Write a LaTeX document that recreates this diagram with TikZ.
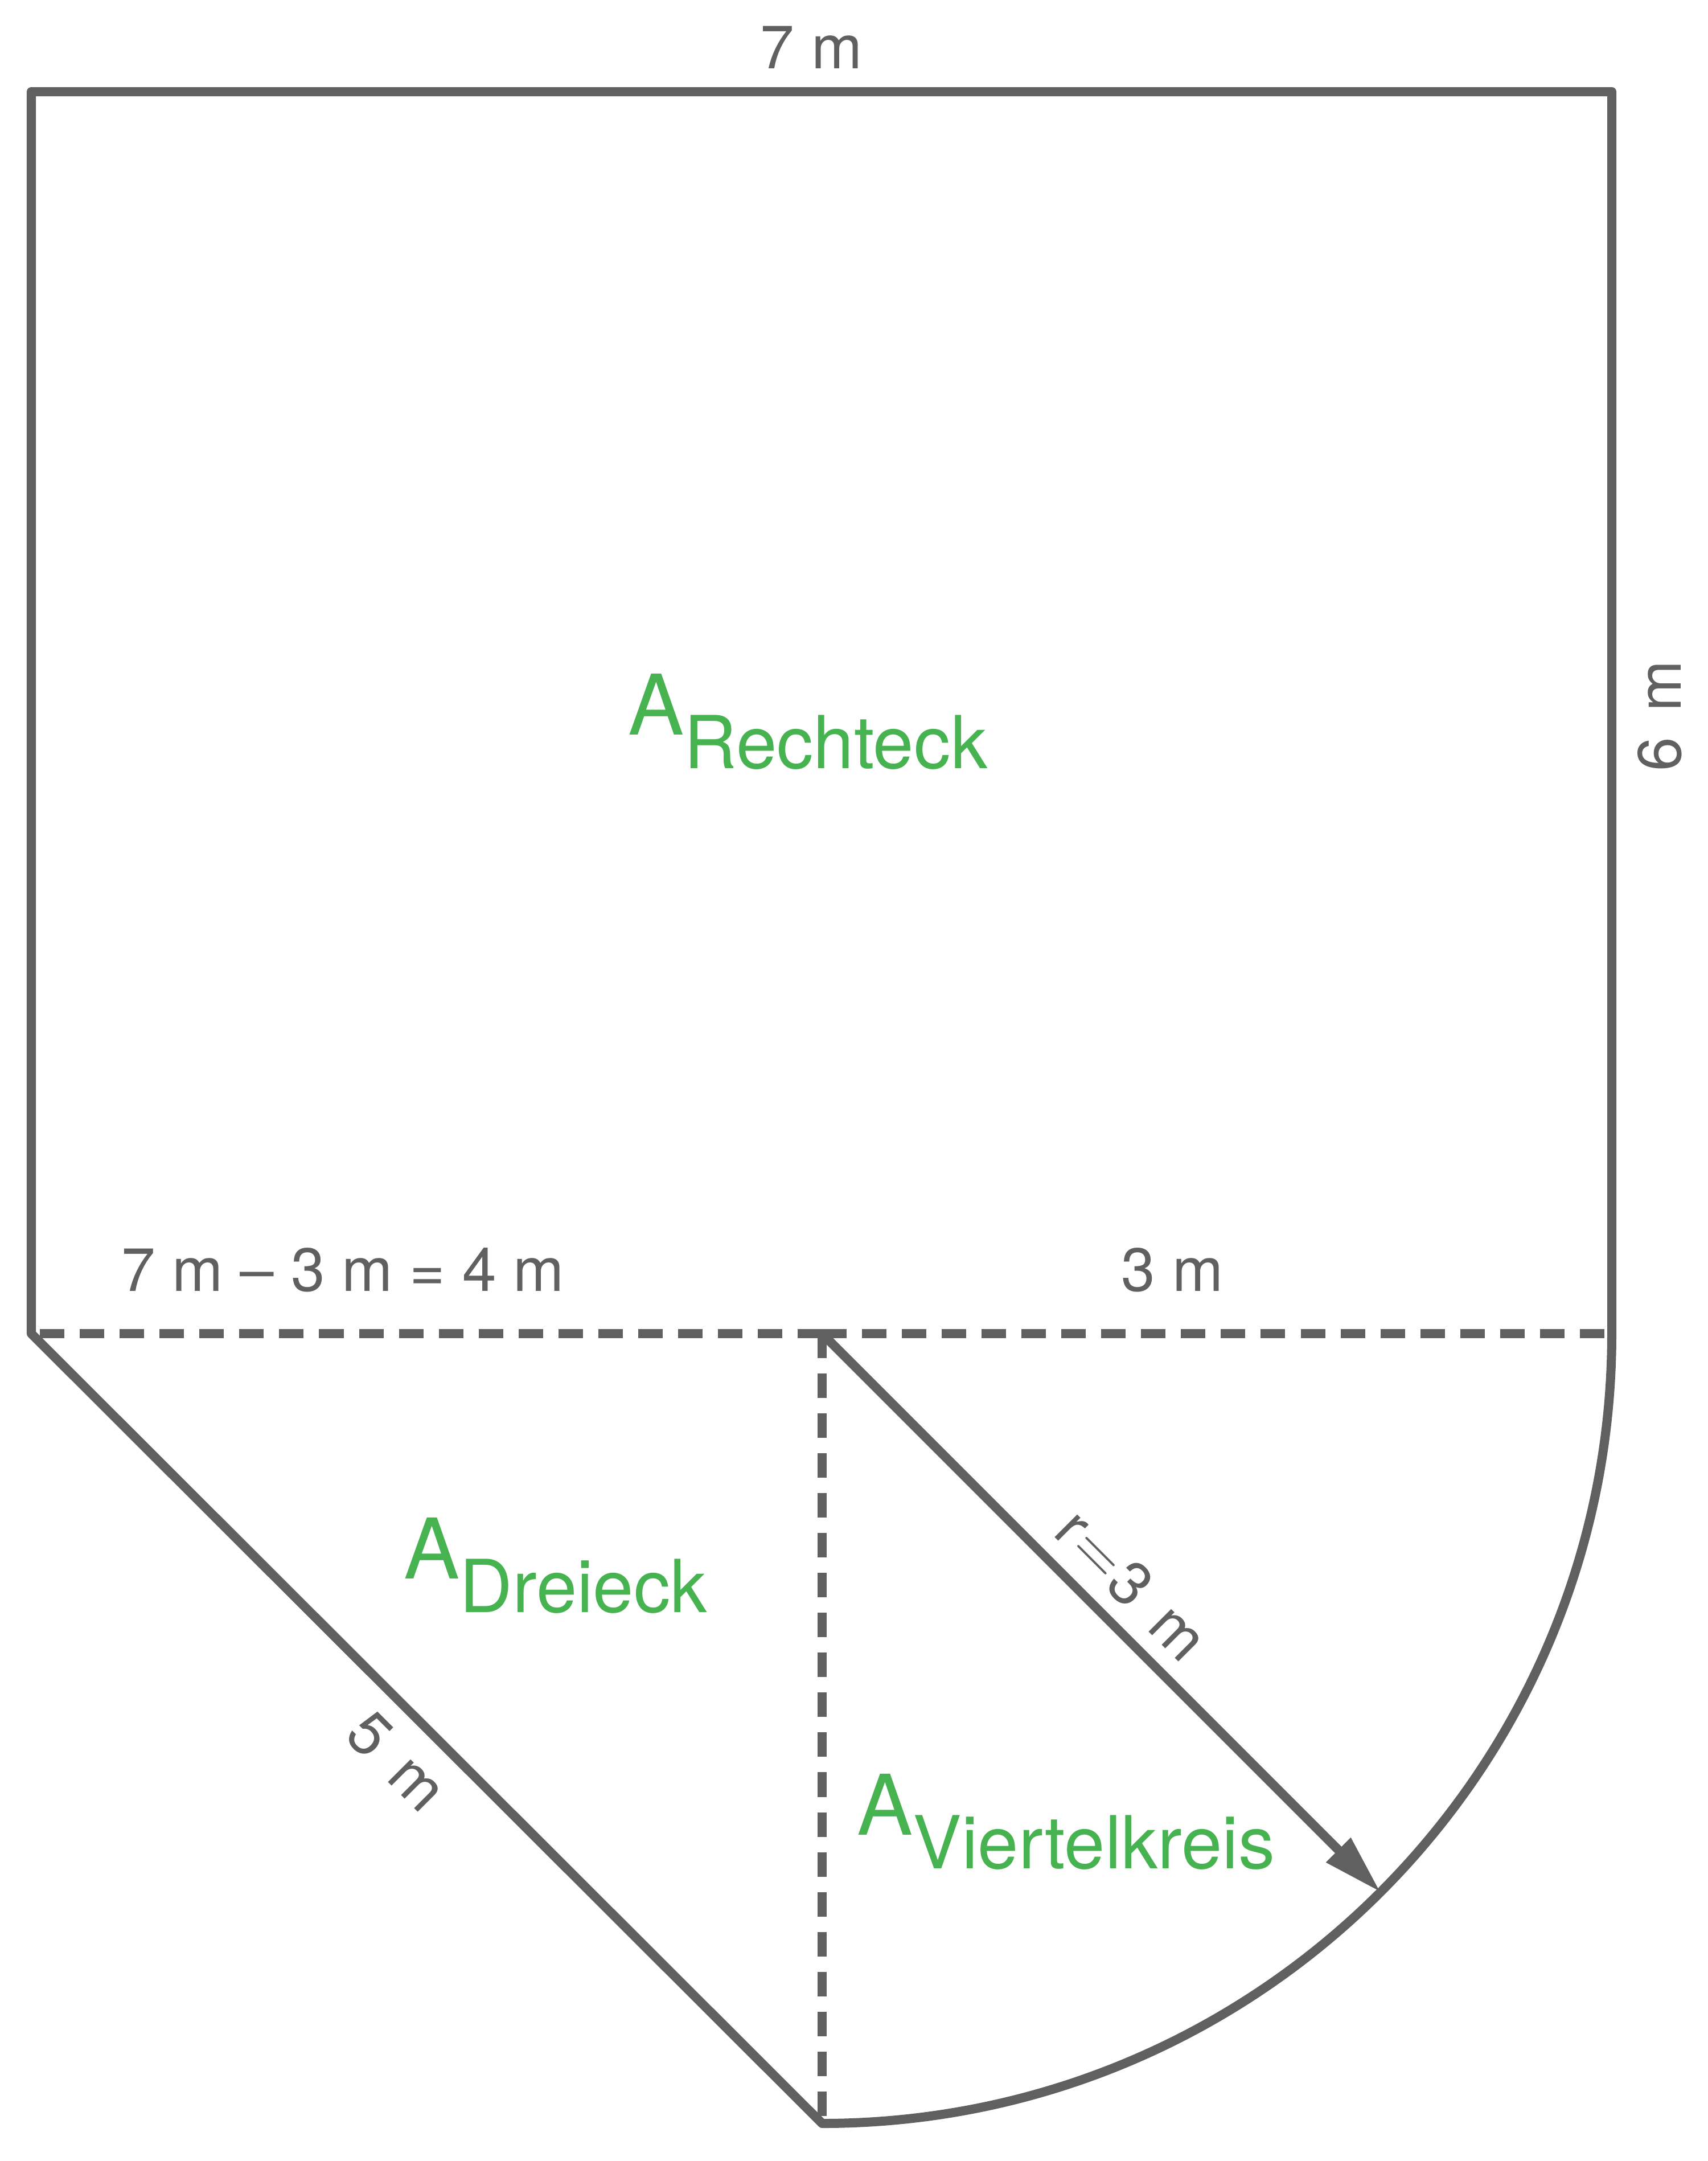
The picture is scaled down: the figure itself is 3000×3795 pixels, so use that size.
\documentclass[tikz,border=0pt]{standalone}
\usepackage{fontspec}
\usepackage{graphicx}
\setmainfont{TeX Gyre Heros}
\usetikzlibrary{arrows.meta}

\definecolor{linegray}{RGB}{96,96,96}
\definecolor{areagreen}{RGB}{70,178,80}
\newcommand{\areaname}[1]{{\fontsize{41.8}{48}\selectfont A}\raisebox{-0.59cm}{\fontsize{36.5}{42}\selectfont #1}}
\newcommand{\wideunit}[1]{#1\hspace{0.45cm}m}

\begin{document}
\begin{tikzpicture}[x=0.01cm, y=-0.01cm,
    edge/.style={draw=linegray, line width=0.16cm, line join=round},
    helper/.style={draw=linegray, line width=0.16cm, dash pattern=on 0.43cm off 0.27cm},
    dimlabel/.style={text=linegray, inner sep=0pt, font=\fontsize{30.5}{36}\selectfont},
    arealabel/.style={text=areagreen, inner sep=0pt, anchor=base west}]
    \useasboundingbox (0, 0) rectangle (3000, 3795);

    \coordinate (TL) at (55, 161);
    \coordinate (TR) at (2831, 161);
    \coordinate (L) at (55, 2342);
    \coordinate (R) at (2831, 2342);
    \coordinate (M) at (1444, 2342);
    \coordinate (B) at (1444, 3718);
    \coordinate (rim) at (2425, 3323);

    % rectangle, quarter circle and triangle in one outline
    \draw[edge] (L) -- (TL) -- (TR) -- (R) arc[start angle=0, end angle=90, radius=1387] -- cycle;
    \draw[helper] (M) -- (L);
    \draw[helper] (M) -- (R);
    \draw[helper] (M) -- (B);
    \draw[edge, -{Triangle[length=1.05cm, width=0.57cm]}] (M) -- (rim); % radius

    \node[dimlabel, anchor=base] (width) at (1425, 120) {7 m};
    \node[dimlabel, rotate=90] (height) at (2915, 1257) {\wideunit{6}};
    \node[dimlabel, anchor=base] (diff) at (602, 2267) {7 m – 3 m = 4 m};
    \node[dimlabel, anchor=base] (rest) at (2059, 2267) {3 m};
    \node[dimlabel, rotate=-45] (slant) at (697, 3093) {\wideunit{5}};
    \node[dimlabel, rotate=-45] (radius) at (1988, 2783) {r\kern0.05cm\scalebox{1.3}{$=$}\kern0.07cm\wideunit{3}};

    \node[arealabel] (rect) at (1103, 1290) {\areaname{Rechteck}};
    \node[arealabel] (tri) at (709, 2772) {\areaname{Dreieck}};
    \node[arealabel] (quarter) at (1505, 3222) {\areaname{Viertelkreis}};
\end{tikzpicture}
\end{document}
